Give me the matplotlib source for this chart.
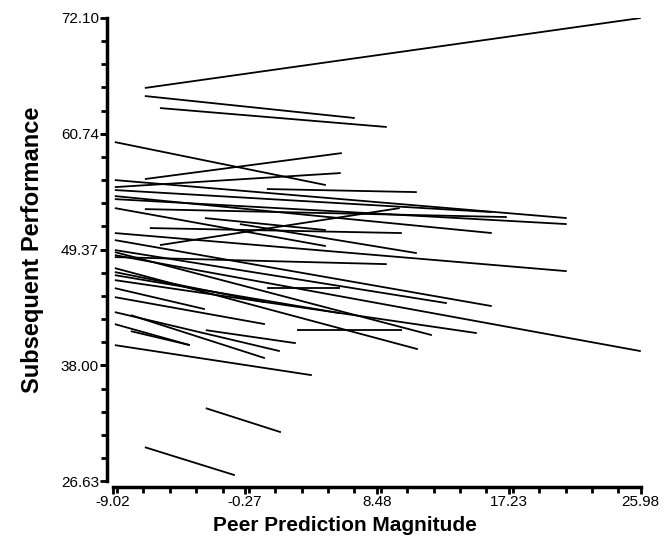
import matplotlib
matplotlib.use("Agg")
import matplotlib.pyplot as plt
from matplotlib.ticker import MultipleLocator, FixedLocator

plt.rcParams['font.family'] = ['Liberation Sans', 'DejaVu Sans']

# one regression segment per subject: start (x0, y0) -> end (x1, y1)
x0 = [-6.90, -6.90, -5.90, -8.89, -6.90, -8.89, 1.19, -8.89, -8.89, -8.89,
      -6.90, -8.89, -5.90, -8.89, -2.92, -6.57, -0.60, -8.89, -8.89, -8.89,
      -8.89, -8.89, 1.19, -8.89, -8.89, -8.89, 3.18, -8.89, -8.89, -8.89,
      -8.89, -7.83, -8.89, -7.83, -2.86, -8.89, -8.89, -2.86, -6.90]
y0 = [65.23, 64.44, 63.26, 59.92, 56.29, 55.50, 55.31, 56.19, 54.32, 55.21,
      53.34, 54.62, 49.81, 53.44, 52.46, 51.48, 51.87, 50.99, 48.63, 50.30,
      48.82, 49.32, 45.58, 46.86, 49.12, 46.37, 41.46, 47.55, 47.16, 45.58,
      44.70, 42.93, 42.05, 41.36, 41.46, 43.23, 39.99, 33.80, 29.97]
x1 = [25.98, 7.02, 9.14, 5.10, 6.16, 6.09, 11.13, 21.07, 21.07, 16.10,
      17.10, 16.10, 10.00, 5.10, 5.10, 10.14, 11.13, 21.07, 9.14, 16.10,
      25.98, 13.12, 6.03, 6.03, 12.13, 15.11, 10.14, 11.20, 1.06, -2.92,
      1.06, 1.06, -3.92, -3.92, 3.11, 2.05, 4.17, 2.12, -0.93]
y1 = [72.10, 62.28, 61.40, 55.70, 58.84, 56.88, 55.01, 52.46, 51.87, 53.05,
      52.56, 50.99, 53.44, 49.71, 51.28, 50.99, 49.02, 47.25, 47.94, 43.82,
      39.40, 44.11, 45.58, 43.13, 40.97, 41.17, 41.46, 39.59, 44.21, 43.52,
      42.05, 38.71, 39.99, 39.99, 40.18, 39.40, 37.04, 31.44, 27.22]

x_ticks = [-9.02, -0.27, 8.48, 17.23, 25.98]
y_ticks = [26.63, 38.00, 49.37, 60.74, 72.10]

fig = plt.figure(figsize=(6.64, 5.45), dpi=100)
ax = fig.add_axes([0.170, 0.117, 0.795, 0.850])

for a, b, c, d in zip(x0, y0, x1, y1):
    ax.plot([a, c], [b, d], color='black', lw=1.3, solid_capstyle='butt')

ax.set_xlim(x_ticks[0], x_ticks[-1])
ax.set_ylim(y_ticks[0], y_ticks[-1])

ax.xaxis.set_major_locator(FixedLocator(x_ticks))
ax.yaxis.set_major_locator(FixedLocator(y_ticks))
ax.set_xticklabels([f"{v:.2f}" for v in x_ticks])
ax.set_yticklabels([f"{v:.2f}" for v in y_ticks])
ax.xaxis.set_minor_locator(MultipleLocator(1.75))
ax.yaxis.set_minor_locator(FixedLocator(
    [y_ticks[0] + i * (y_ticks[-1] - y_ticks[0]) / 20 for i in range(21)]))

for s in ['top', 'right']:
    ax.spines[s].set_visible(False)
for s in ['left', 'bottom']:
    ax.spines[s].set_linewidth(2.5)
    ax.spines[s].set_position(('outward', 4))

ax.tick_params(which='major', direction='out', length=5, width=2, labelsize=11, pad=1)
ax.tick_params(which='minor', direction='out', length=4, width=2)

ax.set_xlabel('Peer Prediction Magnitude', fontsize=15, fontweight='bold')
ax.xaxis.set_label_coords(0.44, -0.075)
ax.set_ylabel('Subsequent Performance', fontsize=17, fontweight='bold')
ax.yaxis.set_label_coords(-0.13, 0.50)

fig.savefig('out.png', dpi=100)
